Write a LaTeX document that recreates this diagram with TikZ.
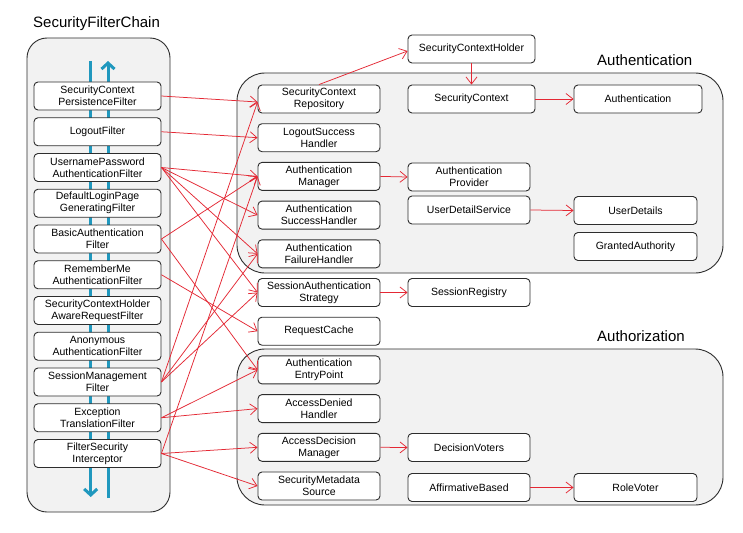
\documentclass[tikz,border=0pt]{standalone}
\usepackage{fontspec}
\setmainfont{Liberation Sans}
\usetikzlibrary{arrows.meta,calc}
\definecolor{redline}{RGB}{228,40,52}
\definecolor{blueline}{RGB}{32,152,190}
\definecolor{panel}{RGB}{242,242,242}
\definecolor{edge}{RGB}{45,45,45}
\begin{document}
\begin{tikzpicture}[x=1pt,y=-1pt,
  box/.style={draw=edge, line width=0.9pt, rounded corners=4pt, fill=white, align=center,
    inner sep=1pt, font=\fontsize{10.5}{12}\selectfont, minimum height=28pt},
  lbox/.style={box, minimum width=127pt},
  mbox/.style={box, minimum width=122pt},
  rbox/.style={box, minimum width=122pt},
  wbox/.style={box, minimum width=127pt},
  qbox/.style={box, minimum width=123pt},
  panelbox/.style={draw=edge, line width=0.9pt, fill=panel},
  title/.style={anchor=west, inner sep=0pt, font=\fontsize{15}{18}\selectfont},
  rarr/.style={draw=redline, line width=0.75pt, -{Straight Barb[length=7pt,width=11pt]}},
  barr/.style={draw=blueline, line width=3pt, -{Straight Barb[length=6pt,width=13pt]}}
]
\useasboundingbox[fill=white] (0,0) rectangle (743,532);

% containers
\draw[panelbox, rounded corners=20pt] (27,38) rectangle (170,512);
\draw[panelbox, rounded corners=28pt] (237,73) rectangle (723,273);
\draw[panelbox, rounded corners=28pt] (237,349) rectangle (723,505);

% titles
\node[title] (tchain) at (33,24) {SecurityFilterChain};
\node[title] (tauth) at (597,60) {Authentication};
\node[title] (tauthz) at (597,336) {Authorization};

% flow lines
\coordinate (bl1) at (90.7,61);
\coordinate (bl2) at (90.7,497);
\coordinate (br1) at (108,498);
\coordinate (br2) at (108,61);
\draw[barr] (bl1) -- (bl2);
\draw[barr] (br1) -- (br2);

% filter chain
\node[lbox] (f1) at (97.5,96) {SecurityContext\\PersistenceFilter};
\node[lbox] (f2) at (97.5,131.75) {LogoutFilter};
\node[lbox] (f3) at (97.5,167.5) {UsernamePassword\\AuthenticationFilter};
\node[lbox] (f4) at (97.5,203.25) {DefaultLoginPage\\GeneratingFilter};
\node[lbox] (f5) at (97.5,239) {BasicAuthentication\\Filter};
\node[lbox] (f6) at (97.5,274.75) {RememberMe\\AuthenticationFilter};
\node[lbox] (f7) at (97.5,310.5) {SecurityContextHolder\\AwareRequestFilter};
\node[lbox] (f8) at (97.5,346.25) {Anonymous\\AuthenticationFilter};
\node[lbox] (f9) at (97.5,382) {SessionManagement\\Filter};
\node[lbox] (f10) at (97.5,417.75) {Exception\\TranslationFilter};
\node[lbox] (f11) at (97.5,453.5) {FilterSecurity\\Interceptor};

% middle column
\node[mbox] (m1) at (319,99) {SecurityContext\\Repository};
\node[mbox] (m2) at (319,137.7) {LogoutSuccess\\Handler};
\node[mbox] (m3) at (319,176.4) {Authentication\\Manager};
\node[mbox] (m4) at (319,215.1) {Authentication\\SuccessHandler};
\node[mbox] (m5) at (319,253.8) {Authentication\\FailureHandler};
\node[mbox] (m6) at (319,292.5) {SessionAuthentication\\Strategy};
\node[mbox] (m7) at (319,331.2) {RequestCache};
\node[mbox] (m8) at (319,369.9) {Authentication\\EntryPoint};
\node[mbox] (m9) at (319,408.6) {AccessDenied\\Handler};
\node[mbox] (m10) at (319,447.3) {AccessDecision\\Manager};
\node[mbox] (m11) at (319,486) {SecurityMetadata\\Source};

% right columns
\node[wbox] (sch) at (471.5,49) {SecurityContextHolder};
\node[wbox] (sc) at (471.5,99) {SecurityContext};
\node[box, minimum width=128pt] (auth) at (638,99) {Authentication};
\node[rbox] (ap) at (469,177) {Authentication\\Provider};
\node[rbox] (uds) at (469,210) {UserDetailService};
\node[qbox] (ud) at (635.5,210.5) {UserDetails};
\node[qbox] (ga) at (635.5,246.5) {GrantedAuthority};
\node[rbox] (sr) at (469,292.5) {SessionRegistry};
\node[rbox] (dv) at (469,447.5) {DecisionVoters};
\node[rbox] (ab) at (469,487.5) {AffirmativeBased};
\node[qbox] (rv) at (635.5,487.5) {RoleVoter};

% right side arrows
\draw[rarr] (m1.north) -- ([yshift=-2pt]sch.west);
\draw[rarr] (sch.south) -- (sc.north);
\draw[rarr] (sc.east) -- (auth.west);
\draw[rarr] (m3.east) -- (ap.west);
\draw[rarr] (uds.east) -- (ud.west);
\draw[rarr] (m6.east) -- (sr.west);
\draw[rarr] (m10.east) -- (dv.west);
\draw[rarr] (ab.east) -- (rv.west);

% filter to component arrows
\draw[rarr] (f1.east) -- ([yshift=-3pt]m1.west);
\draw[rarr] (f2.east) -- (m2.west);
\draw[rarr] (f3.east) -- (m3.west);
\draw[rarr] (f3.east) -- (m4.west);
\draw[rarr] (f3.east) -- (m5.west);
\draw[rarr] (f3.east) -- (m6.west);
\draw[rarr] (f5.east) -- (m3.west);
\draw[rarr] (f5.east) -- (m8.west);
\draw[rarr] (f6.east) -- (m7.west);
\draw[rarr] (f9.east) -- ([yshift=-3pt]m1.west);
\draw[rarr] (f9.east) -- (m5.west);
\draw[rarr] (f9.east) -- (m6.west);
\draw[rarr] (f10.east) -- (m8.west);
\draw[rarr] (f10.east) -- (m9.west);
\draw[rarr] (f11.east) -- (m3.west);
\draw[rarr] (f11.east) -- (m10.west);
\draw[rarr] (f11.east) -- (m11.west);
\end{tikzpicture}
\end{document}
